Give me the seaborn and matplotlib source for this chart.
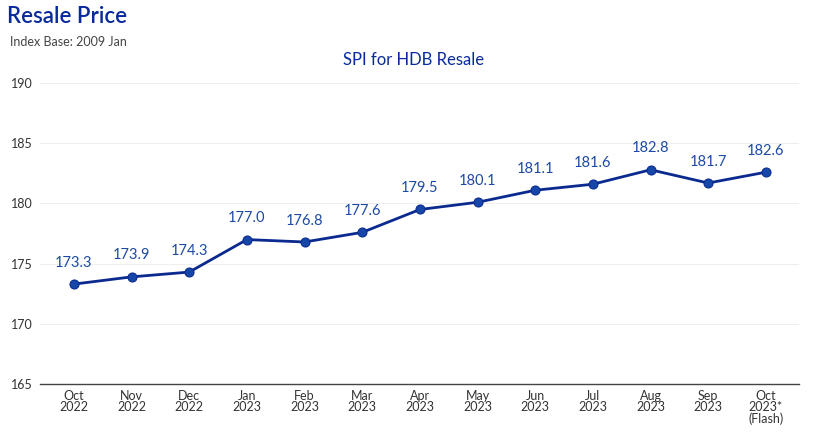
import numpy as np
import pandas as pd
import matplotlib
matplotlib.use('Agg')
import matplotlib.pyplot as plt
import seaborn as sns

# Data
months = ['Oct\n2022', 'Nov\n2022', 'Dec\n2022', 'Jan\n2023', 'Feb\n2023', 'Mar\n2023',
          'Apr\n2023', 'May\n2023', 'Jun\n2023', 'Jul\n2023', 'Aug\n2023', 'Sep\n2023',
          'Oct\n2023*\n(Flash)']
spi = [173.3, 173.9, 174.3, 177.0, 176.8, 177.6, 179.5, 180.1, 181.1, 181.6, 182.8, 181.7, 182.6]
yticks = [165, 170, 175, 180, 185, 190]

df = pd.DataFrame({'idx': range(len(months)), 'spi': spi})

sns.set_theme(style='white')
plt.rcParams['font.family'] = ['Lato', 'DejaVu Sans']

navy = '#0b2a8f'
label_blue = '#1d4aa5'

fig = plt.figure(figsize=(8.15, 4.47), dpi=100)
ax = fig.add_axes([0.049, 0.141, 0.931, 0.673])

sns.lineplot(data=df, x='idx', y='spi', ax=ax, color=navy, linewidth=2.0,
             marker='o', markersize=6.5, markerfacecolor='#1546a8', markeredgecolor=navy)

for i, v in enumerate(spi):
    ax.text(i, v + 1.2, f'{v:.1f}', ha='center', va='bottom', fontsize=10.5, color=label_blue)

ax.set_xlim(-0.59, 12.57)
ax.set_ylim(165, 190)
ax.set_yticks(yticks)
ax.set_yticklabels([str(t) for t in yticks], fontsize=9, color='#333333')
ax.set_xticks(range(len(months)))
ax.set_xticklabels(months, fontsize=9, color='#333333', linespacing=0.95)
ax.tick_params(axis='x', length=0, pad=4)
ax.tick_params(axis='y', length=0, pad=5)
ax.set_xlabel('')
ax.set_ylabel('')
ax.yaxis.grid(True, color='#eeeeee', linewidth=0.8)
ax.set_axisbelow(True)
for s in ['top', 'right', 'left']:
    ax.spines[s].set_visible(False)
ax.spines['bottom'].set_color('#444444')
ax.spines['bottom'].set_linewidth(1.0)

fig.text(0.008, 0.962, 'Resale Price', fontsize=16, color='#0a2a9c', fontweight='semibold', va='center')
fig.text(0.012, 0.905, 'Index Base: 2009 Jan', fontsize=9, color='#444444', va='center')
fig.text(0.507, 0.865, 'SPI for HDB Resale', fontsize=12, color='#0a2a9c', ha='center', va='center')

fig.savefig('out.png', dpi=100, facecolor='white')
